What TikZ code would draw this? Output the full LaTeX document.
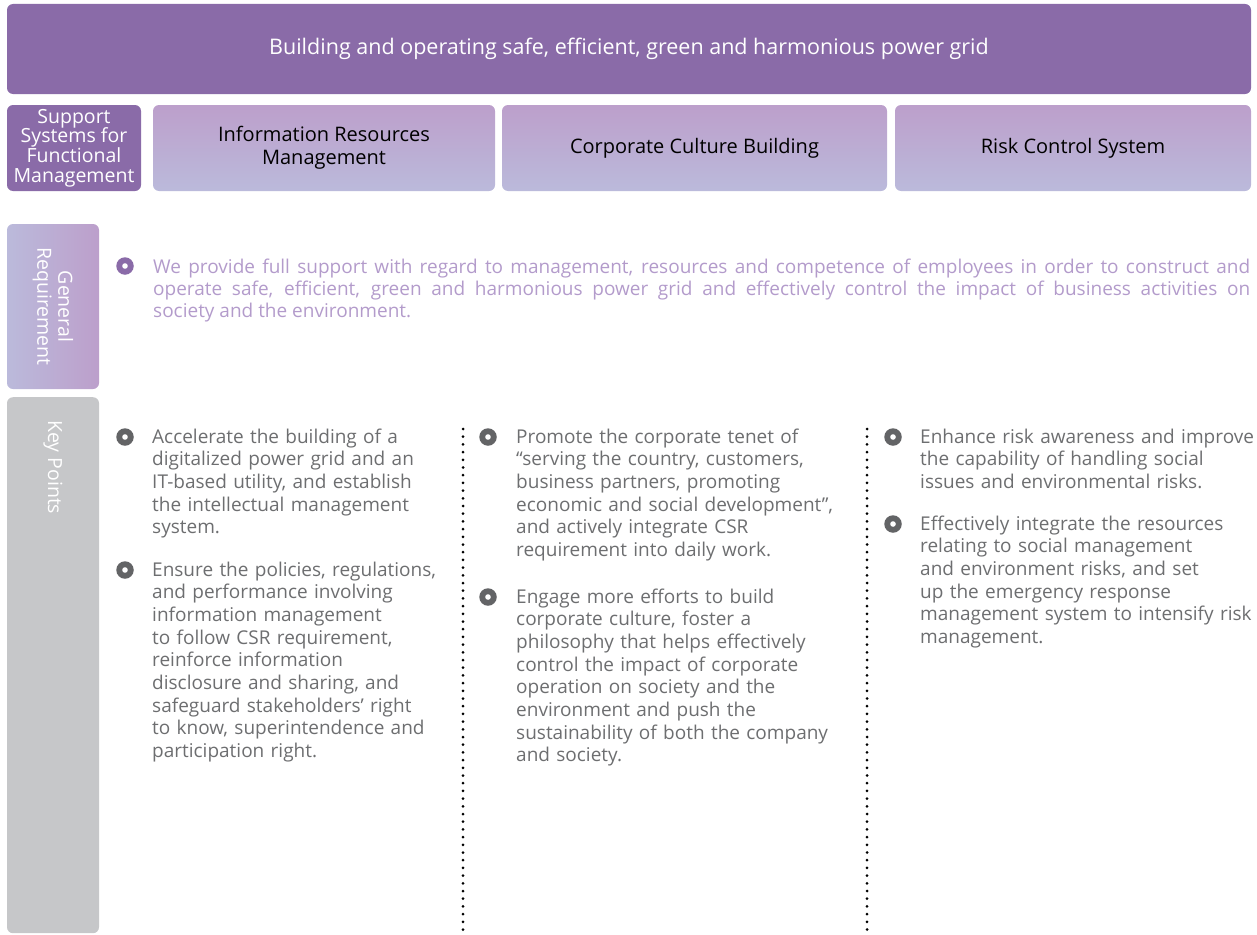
\documentclass[tikz,border=0pt]{standalone}
\usepackage{fontspec}
\setmainfont{Open Sans}
\definecolor{pdark}{HTML}{8A6BA8}
\definecolor{ptop}{HTML}{BC9FCB}
\definecolor{pbot}{HTML}{BBBADB}
\definecolor{ptext}{HTML}{B39BCB}
\definecolor{gbox}{HTML}{C6C7C9}
\definecolor{gtext}{HTML}{6D6E70}
\definecolor{gbul}{HTML}{636466}
\begin{document}
\begin{tikzpicture}[x=1pt,y=-1pt,
  box/.style={rounded corners=6pt, inner sep=0pt, align=center},
  darkbox/.style={box, fill=pdark, text=white},
  lightbox/.style={box, top color=ptop, bottom color=pbot, text=black, font=\fontsize{20}{23}\selectfont},
  bul/.style={circle, fill=#1, minimum size=17.5pt, inner sep=0pt,
    path picture={\fill[white] (path picture bounding box.center) circle (2.8pt);}},
  para/.style={anchor=base west, inner sep=0pt, align=left, text width=#1, text=gtext, font=\fontsize{19}{22.7}\selectfont},
  dotline/.style={line width=3pt, line cap=round, dash pattern=on 0pt off 7.7pt}
]
\useasboundingbox (0,0) rectangle (1257,934);

% top bar
\node[darkbox, minimum width=1244pt, minimum height=90pt, font=\fontsize{21.5}{25}\selectfont] (top) at (629,49)
  {Building and operating safe, efficient, green and harmonious power grid};

% second row
\node[darkbox, minimum width=134pt, minimum height=86pt, font=\fontsize{19.5}{19.8}\selectfont] (sup) at (74,148)
  {Support\\Systems for\\Functional\\Management};
\node[lightbox, minimum width=342pt, minimum height=86pt] (info) at (324,148)
  {Information Resources\\Management};
\node[lightbox, minimum width=385pt, minimum height=86pt] (corp) at (694.5,148)
  {Corporate Culture Building};
\node[lightbox, minimum width=356pt, minimum height=86pt] (risk) at (1073,148)
  {Risk Control System};

% general requirement
\node[box, minimum width=92pt, minimum height=165pt, left color=pbot, right color=ptop] (gen) at (53,306.5) {};
\node[rotate=-90, text=white, align=center, inner sep=0pt, font=\fontsize{19.5}{21}\selectfont] (gent) at (gen.center) {General\\Requirement};

\node[bul=pdark] (gb) at (125,266) {};
\node[anchor=base west, inner sep=0pt, text width=1097pt, align=justify, text=ptext, font=\fontsize{19}{22.2}\selectfont] (gtxt) at (153,273)
  {We provide full support with regard to management, resources and competence of employees in order to construct and\linebreak operate safe, efficient, green and harmonious power grid and effectively control the impact of business activities on\linebreak society and the environment.};

% key points
\node[box, fill=gbox, minimum width=92pt, minimum height=536pt, anchor=north] (key) at (53,397) {};
\node[rotate=-90, anchor=west, text=white, inner sep=0pt, font=\fontsize{19.5}{21}\selectfont] (keyt) at (53,420) {Key Points};

% dotted separators
\coordinate (d1a) at (463,429); \coordinate (d1b) at (463,940);
\coordinate (d2a) at (867,429); \coordinate (d2b) at (867,940);
\draw[dotline] (d1a) -- (d1b);
\draw[dotline] (d2a) -- (d2b);

% column 1
\node[bul=gbul] (c1b1) at (125,437) {};
\node[para=310pt] (c1p1) at (152,443)
  {Accelerate the building of a\\digitalized power grid and an\\IT-based utility, and establish\\the intellectual management\\system.};
\node[bul=gbul] (c1b2) at (125,570) {};
\node[para=310pt] (c1p2) at (152,576)
  {Ensure the policies, regulations,\\and performance involving\\information management\\to follow CSR requirement,\\reinforce information\\disclosure and sharing, and\\safeguard stakeholders’ right\\to know, superintendence and\\participation right.};

% column 2
\node[bul=gbul] (c2b1) at (488,437) {};
\node[para=345pt] (c2p1) at (516,443)
  {Promote the corporate tenet of\\“serving the country, customers,\\business partners, promoting\\economic and social development”,\\and actively integrate CSR\\requirement into daily work.};
\node[bul=gbul] (c2b2) at (488,597) {};
\node[para=345pt] (c2p2) at (516,603)
  {Engage more efforts to build\\corporate culture, foster a\\philosophy that helps effectively\\control the impact of corporate\\operation on society and the\\environment and push the\\sustainability of both the company\\and society.};

% column 3
\node[bul=gbul] (c3b1) at (893,437) {};
\node[para=340pt] (c3p1) at (920,443)
  {Enhance risk awareness and improve\\the capability of handling social\\issues and environmental risks.};
\node[bul=gbul] (c3b2) at (893,524) {};
\node[para=340pt] (c3p2) at (920,530)
  {Effectively integrate the resources\\relating to social management\\and environment risks, and set\\up the emergency response\\management system to intensify risk\\management.};
\end{tikzpicture}
\end{document}
